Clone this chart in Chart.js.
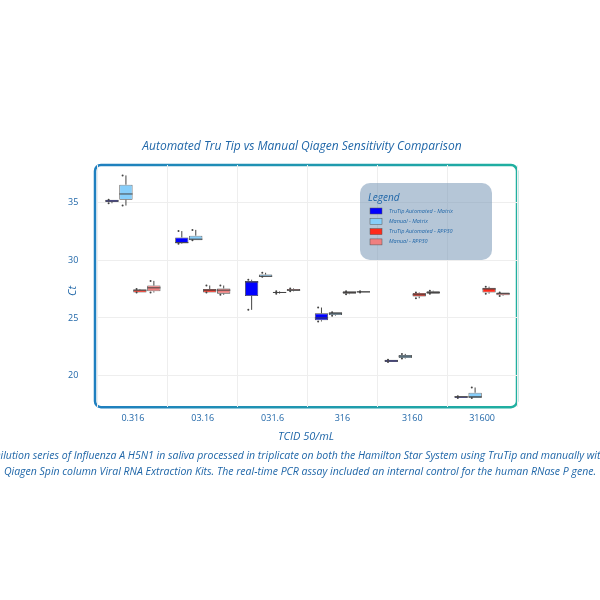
<!DOCTYPE html>
<html><head><meta charset="utf-8">
<script src="https://cdn.jsdelivr.net/npm/chart.js@4.4.0/dist/chart.umd.min.js"></script>
<style>html,body{margin:0;padding:0;background:#fff}#c{display:block}</style>
</head><body>
<canvas id="c" width="600" height="600"></canvas>
<script>
const categories = ["0.316","03.16","031.6","316","3160","31600"];
const seriesNames = ["TruTip Automated - Matrix","Manual - Matrix","TruTip Automated - RPP30","Manual - RPP30"];
const yTicks = [20,25,30,35];
// each entry: [min, q1, median, q3, max]
const truTipMatrix = [[34.9,35.0,35.1,35.2,35.2],[31.4,31.45,31.5,31.95,32.5],[25.7,26.9,28.1,28.2,28.3],[24.7,24.8,25.0,25.4,25.9],[21.2,21.2,21.3,21.4,21.4],[18.1,18.1,18.2,18.25,18.25]];
const manualMatrix = [[34.7,35.2,35.7,36.5,37.3],[31.7,31.7,31.8,32.1,32.6],[28.55,28.55,28.6,28.75,28.9],[25.2,25.25,25.4,25.5,25.5],[21.5,21.55,21.7,21.8,21.9],[18.1,18.1,18.2,18.55,19.0]];
const truTipRpp30 = [[27.2,27.2,27.4,27.45,27.5],[27.2,27.2,27.4,27.5,27.8],[27.1,27.15,27.2,27.25,27.3],[27.05,27.1,27.2,27.3,27.3],[26.7,26.85,27.0,27.15,27.2],[27.1,27.2,27.5,27.6,27.7]];
const manualRpp30 = [[27.2,27.3,27.6,27.8,28.2],[27.0,27.1,27.4,27.55,27.8],[27.3,27.35,27.4,27.5,27.55],[27.2,27.2,27.25,27.3,27.3],[27.1,27.1,27.2,27.3,27.35],[26.9,26.95,27.1,27.2,27.2]];
const allSeries = [truTipMatrix, manualMatrix, truTipRpp30, manualRpp30];
const colors = ["#0000ff","#87cefa","#ff2a1a","#f08080"];
const textCol = "#1f66a8";
const FONT = "'Open Sans', sans-serif";

const boxPlugin = {
  id:'boxes',
  beforeDraw(chart){
    const {ctx, chartArea:a} = chart;
    ctx.save();
    // frame
    const g = ctx.createLinearGradient(a.left,0,a.right,0);
    g.addColorStop(0,'#1f7fbf'); g.addColorStop(1,'#20b0a0');
    ctx.strokeStyle=g; ctx.lineWidth=2.5;
    ctx.beginPath(); ctx.roundRect(a.left-3,a.top,a.right-a.left+3,a.bottom-a.top,6); ctx.stroke();
    ctx.restore();
  },
  afterDatasetsDraw(chart){
    const {ctx, scales:{y}} = chart;
    ctx.save();
    ctx.strokeStyle='#444'; ctx.lineWidth=1;
    allSeries.forEach((s,i)=>{
      const meta = chart.getDatasetMeta(i);
      meta.data.forEach((bar,j)=>{
        const [mn,q1,md,q3,mx]=s[j];
        const x=bar.x, w=bar.width;
        ctx.beginPath();
        ctx.moveTo(x,y.getPixelForValue(q3)); ctx.lineTo(x,y.getPixelForValue(mx));
        ctx.moveTo(x,y.getPixelForValue(q1)); ctx.lineTo(x,y.getPixelForValue(mn));
        ctx.moveTo(x-w/2,y.getPixelForValue(md)); ctx.lineTo(x+w/2,y.getPixelForValue(md));
        ctx.stroke();
        ctx.fillStyle='#444';
        [mn,mx].forEach(v=>{ctx.beginPath();ctx.arc(x-w/4,y.getPixelForValue(v),1,0,Math.PI*2);ctx.fill();});
      });
    });
    ctx.restore();
  },
  afterDraw(chart){
    const {ctx} = chart;
    ctx.save();
    ctx.fillStyle=textCol; ctx.textAlign='center'; ctx.textBaseline='middle';
    ctx.font="italic 12px "+FONT;
    ctx.fillText("Automated Tru Tip vs Manual Qiagen Sensitivity Comparison",302,147);
    ctx.font="italic 11px "+FONT;
    ctx.fillText("TCID 50/mL",306,437);
    ctx.save(); ctx.translate(73,291); ctx.rotate(-Math.PI/2); ctx.fillText("Ct",0,0); ctx.restore();
    ctx.font="italic 10.5px "+FONT;
    ctx.fillText("Dilution series of Influenza A H5N1 in saliva processed in triplicate on both the Hamilton Star System using TruTip and manually with",300,456);
    ctx.fillText("Qiagen Spin column Viral RNA Extraction Kits. The real-time PCR assay included an internal control for the human RNase P gene.",300,472);
    // legend
    ctx.fillStyle='rgba(120,152,182,0.55)';
    ctx.beginPath(); ctx.roundRect(360,183,132,77,10); ctx.fill();
    ctx.textAlign='left';
    ctx.fillStyle=textCol; ctx.font="italic 10px "+FONT;
    ctx.fillText("Legend",368,198);
    ctx.font="italic 5.5px "+FONT;
    seriesNames.forEach((n,i)=>{
      const yy=211+i*10.3;
      ctx.fillStyle=colors[i]; ctx.fillRect(370,yy-3,12,6);
      ctx.strokeStyle='#555'; ctx.lineWidth=0.5; ctx.strokeRect(370,yy-3,12,6);
      ctx.fillStyle=textCol; ctx.fillText(n,389,yy);
    });
    ctx.restore();
  }
};

new Chart(document.getElementById('c'),{
  type:'bar',
  data:{
    labels:categories,
    datasets: allSeries.map((s,i)=>({
      label:seriesNames[i],
      data:s.map(v=>[v[1],v[3]]),
      backgroundColor:colors[i],
      borderColor:'#444', borderWidth:0.8, borderSkipped:false,
      categoryPercentage:0.8, barPercentage:0.95
    }))
  },
  options:{
    responsive:false, animation:false, devicePixelRatio:1,
    layout:{padding:{left:98,right:83,top:165,bottom:170}},
    plugins:{legend:{display:false},tooltip:{enabled:false}},
    scales:{
      x:{grid:{color:'#eeeeee',drawTicks:false},border:{display:false},
         ticks:{color:textCol,font:{family:FONT,size:9},padding:6}},
      y:{min:17.3,max:38.2,
         afterBuildTicks:(sc)=>{sc.ticks=yTicks.map(v=>({value:v}));},
         grid:{color:'#eeeeee',drawTicks:false},border:{display:false},
         ticks:{mirror:true,color:textCol,font:{family:FONT,size:9},padding:-10}}
    }
  },
  plugins:[boxPlugin]
});
</script>
</body></html>
